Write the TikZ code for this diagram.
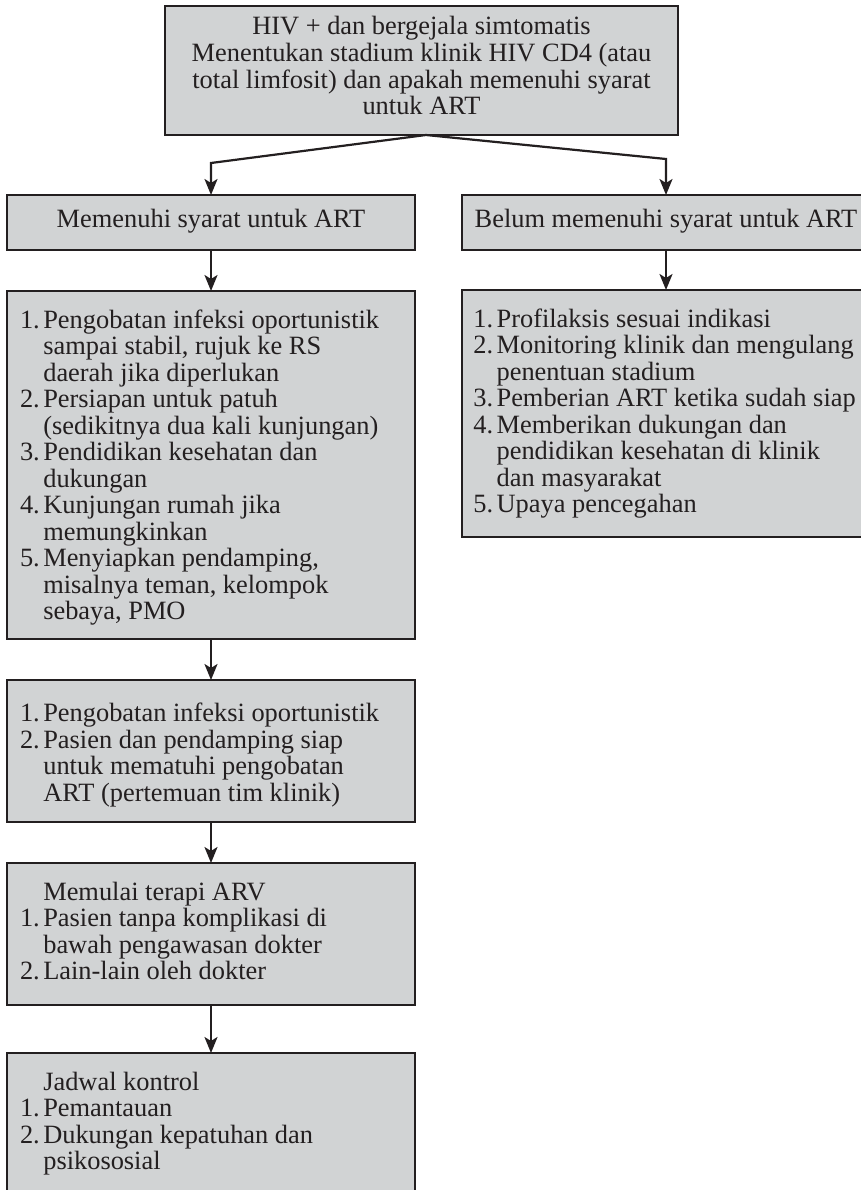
\documentclass[tikz,border=0pt]{standalone}
\usepackage{fontspec}
\setmainfont{Liberation Serif}
\usetikzlibrary{arrows.meta}
\definecolor{boxfill}{RGB}{209,211,212}
\definecolor{ink}{RGB}{35,31,32}

\begin{document}
\begin{tikzpicture}[x=1pt,y=-1pt,
  panel/.style={draw=ink, fill=boxfill, line width=2.6pt, inner sep=0pt,
    outer sep=0pt, anchor=north west},
  txt/.style={inner sep=0pt, outer sep=0pt, text=ink,
    font=\fontsize{26.4}{26.5}\selectfont},
  flow/.style={draw=ink, line width=2.2pt,
    -{Stealth[length=16pt,width=13pt,inset=4pt]}}]

\clip (0,0) rectangle (861,1190);

% boxes
\node[panel, minimum width=513pt, minimum height=129pt] (top) at (165,6) {};
\node[panel, minimum width=408pt, minimum height=55pt]  (l1) at (7,195) {};
\node[panel, minimum width=408pt, minimum height=55pt]  (r1) at (462,195) {};
\node[panel, minimum width=408pt, minimum height=348pt] (l2) at (7,291) {};
\node[panel, minimum width=408pt, minimum height=247pt] (r2) at (462,290) {};
\node[panel, minimum width=408pt, minimum height=142pt] (l3) at (7,680) {};
\node[panel, minimum width=408pt, minimum height=142pt] (l4) at (7,863) {};
\node[panel, minimum width=408pt, minimum height=142pt] (l5) at (7,1053) {};

% texts
\node[txt, anchor=base] (ttop) at (421.5,35) {\begin{tabular}[t]{@{}c@{}}
HIV + dan bergejala simtomatis\\
Menentukan stadium klinik HIV CD4 (atau\\
total limfosit) dan apakah memenuhi syarat\\
untuk ART\end{tabular}};

\node[txt, anchor=base] (tl1) at (211,227.7) {Memenuhi syarat untuk ART};
\node[txt, anchor=base] (tr1) at (666,227.7) {Belum memenuhi syarat untuk ART};

\node[txt, anchor=base west] (tl2) at (20,328) {\begin{tabular}[t]{@{}l@{\hspace{3.5pt}}l@{}}
1. & Pengobatan infeksi oportunistik\\
   & sampai stabil, rujuk ke RS\\
   & daerah jika diperlukan\\
2. & Persiapan untuk patuh\\
   & (sedikitnya dua kali kunjungan)\\
3. & Pendidikan kesehatan dan\\
   & dukungan\\
4. & Kunjungan rumah jika\\
   & memungkinkan\\
5. & Menyiapkan pendamping,\\
   & misalnya teman, kelompok\\
   & sebaya, PMO\end{tabular}};

\node[txt, anchor=base west] (tr2) at (473.3,327) {\begin{tabular}[t]{@{}l@{\hspace{3.5pt}}l@{}}
1. & Profilaksis sesuai indikasi\\
2. & Monitoring klinik dan mengulang\\
   & penentuan stadium\\
3. & Pemberian ART ketika sudah siap\\
4. & Memberikan dukungan dan\\
   & pendidikan kesehatan di klinik\\
   & dan masyarakat\\
5. & Upaya pencegahan\end{tabular}};

\node[txt, anchor=base west] (tl3) at (20,721.7) {\begin{tabular}[t]{@{}l@{\hspace{3.5pt}}l@{}}
1. & Pengobatan infeksi oportunistik\\
2. & Pasien dan pendamping siap\\
   & untuk mematuhi pengobatan\\
   & ART (pertemuan tim klinik)\end{tabular}};

\node[txt, anchor=base west] (tl4) at (20,900) {\begin{tabular}[t]{@{}l@{\hspace{3.5pt}}l@{}}
   & Memulai terapi ARV\\
1. & Pasien tanpa komplikasi di\\
   & bawah pengawasan dokter\\
2. & Lain-lain oleh dokter\end{tabular}};

\node[txt, anchor=base west] (tl5) at (20,1090) {\begin{tabular}[t]{@{}l@{\hspace{3.5pt}}l@{}}
   & Jadwal kontrol\\
1. & Pemantauan\\
2. & Dukungan kepatuhan dan\\
   & psikososial\end{tabular}};

% connectors
\draw[flow] ([xshift=4.5pt]top.south) -- ([yshift=32pt]l1.north) -- (l1.north);
\draw[flow] ([xshift=4.5pt]top.south) -- ([yshift=36pt]r1.north) -- (r1.north);
\draw[flow] (l1.south) -- (l2.north);
\draw[flow] (r1.south) -- (r2.north);
\draw[flow] (l2.south) -- (l3.north);
\draw[flow] (l3.south) -- (l4.north);
\draw[flow] (l4.south) -- (l5.north);
\end{tikzpicture}
\end{document}
